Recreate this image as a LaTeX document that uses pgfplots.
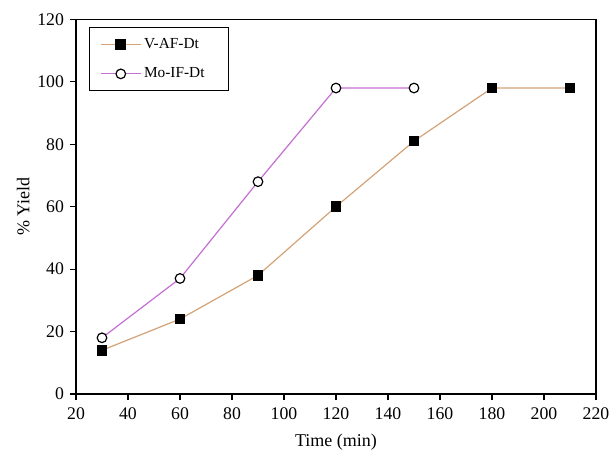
\documentclass[border=0pt]{standalone}
\usepackage{pgfplots}
\pgfplotsset{compat=1.18}
\usepackage{fontspec}
\setmainfont{Liberation Serif}
\definecolor{vcol}{HTML}{D4A277}
\definecolor{mcol}{HTML}{C46FD2}
\begin{document}
\begin{tikzpicture}
\path[use as bounding box] (-57pt,-44.25pt) rectangle ++(457.5pt,339.75pt);
\begin{axis}[
  at={(0,0)}, anchor=south west,
  scale only axis,
  width=390pt, height=281pt,
  xmin=20, xmax=220, ymin=0, ymax=120,
  xtick={20,40,...,220}, ytick={0,20,...,120},
  tick align=outside, tick pos=left,
  major tick length=4.5pt,
  axis line style={line width=1pt, black},
  tick style={line width=0.9pt, black},
  /pgf/number format/assume math mode=true,
  ticklabel style={font=\fontsize{13.3}{15}\selectfont},
  xticklabel style={yshift=-2pt},
  yticklabel style={xshift=-1pt},
  xlabel={Time (min)}, ylabel={\% Yield},
  xlabel style={font=\fontsize{13.5}{15}\selectfont, yshift=-4pt},
  ylabel style={font=\fontsize{13.5}{15}\selectfont, yshift=-1pt},
  legend style={at={(0.025,0.979)}, anchor=north west, draw=black, line width=0.8pt, font=\fontsize{11.5}{13}\selectfont, row sep=9pt, inner xsep=8pt, inner ysep=6pt},
  legend cell align=left,
  legend image code/.code={\draw[mark repeat=2,mark phase=2] plot coordinates {(0pt,0pt) (15pt,0pt) (30pt,0pt)};},
  after end axis/.code={\draw[line width=1.2pt, black] (rel axis cs:0,1) -- (rel axis cs:1,1) -- (rel axis cs:1,0);},
]
\addplot[vcol, line width=0.9pt, mark=square*, mark size=3.6pt, mark options={draw=black, fill=black}] coordinates {(30,14) (60,24) (90,38) (120,60) (150,81) (180,98) (210,98)};
\addlegendentry{\makebox[53pt][l]{V-AF-Dt}}
\addplot[mcol, line width=0.9pt, mark=*, mark size=3.6pt, mark options={draw=black, fill=white, line width=0.9pt}] coordinates {(30,18) (60,37) (90,68) (120,98) (150,98)};
\addlegendentry{\makebox[53pt][l]{Mo-IF-Dt}}
\end{axis}
\end{tikzpicture}
\end{document}
